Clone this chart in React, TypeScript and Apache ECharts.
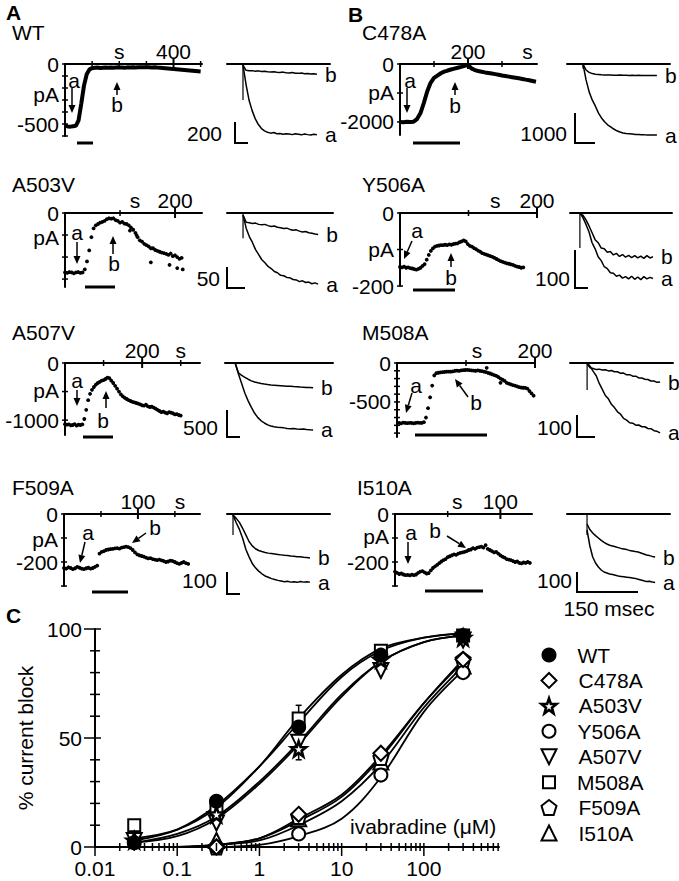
import { useEffect, useRef } from "react";
import * as echarts from "echarts";

const FONT = '"Liberation Sans", Arial, Helvetica, sans-serif';
const INK = "#000";

/* ---------------- Panels A and B : time courses ---------------- */
const mutants = ["WT", "C478A", "A503V", "Y506A", "A507V", "M508A", "F509A", "I510A"];

// sampling of each time course (s)
const courseStart = [0, 0, 0, 0, 0, 3, 0, 0];
const courseStep = [10, 10, 4, 3, 5, 3, 3, 2];

const currentWT = [-515, -520, -522, -518, -515, -470, -330, -180, -85, -45, -35, -32, -30, -33, -31, -30, -32, -29, -31, -28, -30, -29, -31, -28, -30, -27, -29, -27, -28, -26, -28, -27, -29, -28, -30, -31, -33, -35, -37, -40, -42, -44, -46, -48, -50, -52, -54, -56, -58, -60, -62];
const currentC478A = [-2000, -2010, -1995, -2005, -1990, -1900, -1700, -1350, -950, -650, -480, -400, -320, -265, -225, -190, -160, -130, -100, -65, -35, -150, -210, -240, -265, -290, -310, -330, -350, -370, -395, -415, -435, -455, -475, -495, -515, -540, -560, -585, -610];
const currentA503V = [-135, -136, -134, -135, -137, -135, -134, -136, -135, -128, -110, -85, -55, -35, -28, -25, -22, -20, -18, -14, -12, -13, -12, -16, -18, -22, -20, -24, -25, -28, -33, -38, -45, -55, -62, -65, -70, -73, -76, -80, -80, -84, -86, -88, -90, -91, -93, -95, -92, -98, -96, -100, -104, -102];
const currentY506A = [-148, -149, -147, -150, -149, -151, -152, -154, -155, -153, -150, -145, -140, -128, -115, -104, -97, -92, -90, -89, -88, -88, -87, -88, -86, -87, -85, -84, -83, -80, -78, -75, -78, -85, -90, -92, -96, -99, -103, -106, -110, -112, -114, -116, -118, -120, -123, -126, -129, -132, -134, -136, -138, -139, -141, -142, -145, -147, -148, -150, -149];
const currentA507V = [-1070, -1080, -1075, -1090, -1085, -1070, -1095, -1080, -1085, -1075, -980, -820, -650, -540, -470, -420, -380, -350, -330, -310, -300, -280, -255, -265, -310, -350, -400, -450, -500, -550, -585, -610, -630, -650, -665, -680, -690, -700, -710, -725, -740, -745, -730, -760, -770, -765, -780, -800, -820, -840, -860, -850, -870, -880, -860, -870, -880, -900, -895, -910, -920];
const currentM508A = [-770, -775, -765, -770, -772, -768, -770, -775, -770, -765, -768, -770, -760, -700, -580, -440, -290, -160, -130, -125, -120, -118, -115, -112, -110, -112, -108, -100, -98, -102, -95, -92, -90, -88, -92, -95, -98, -100, -95, -100, -105, -110, -118, -128, -135, -145, -155, -165, -180, -200, -215, -230, -255, -265, -275, -285, -290, -300, -310, -315, -318, -320, -330, -360, -390, -420];
const currentF509A = [-225, -228, -222, -225, -230, -226, -220, -224, -228, -230, -226, -224, -228, -225, -220, -215, -165, -158, -155, -150, -148, -146, -145, -143, -142, -144, -140, -138, -136, -138, -142, -150, -160, -168, -172, -175, -178, -182, -185, -184, -188, -190, -192, -190, -193, -196, -200, -198, -194, -196, -200, -205, -208, -204, -200, -205, -208];
const currentI510A = [-240, -245, -250, -248, -252, -255, -254, -256, -253, -255, -252, -245, -240, -238, -243, -248, -246, -235, -225, -218, -212, -205, -198, -192, -188, -180, -176, -172, -168, -170, -165, -162, -160, -158, -155, -150, -148, -142, -145, -140, -138, -136, -140, -130, -145, -150, -155, -160, -158, -165, -172, -178, -182, -188, -190, -192, -196, -200, -198, -204, -206, -202, -204, -200, -204];
const courseValues = [currentWT, currentC478A, currentA503V, currentY506A, currentA507V, currentM508A, currentF509A, currentI510A];
const courseAsLine = [true, true, false, false, false, false, false, false];

// scattered points lying away from the main band: [s, pA]
const strayA503V = [[118, -40], [130, -50], [156, -112], [190, -118], [204, -125], [214, -128]];
const strayM508A = [[130, -62], [150, -255]];
const courseStray = [[], [], strayA503V, [], [], strayM508A, [], []];

// axis ranges, ticks and tick labels of the time courses
const courseXMax = [505, 403, 249, 200, 350, 200, 184, 130];
const courseYMin = [-600, -2450, -168, -200, -1260, -950, -300, -300];
const courseXTicks = [[100, 200, 300, 400, 500], [100, 200, 300], [100, 200], [100, 200], [100, 200, 300], [100, 200], [50, 100, 150], [50, 100]];
const courseXMajor = [[400], [200], [200], [200], [200], [200], [100], [100]];
const courseYTicks = [
  [0, -100, -200, -300, -400, -500, -600],
  [0, -1000, -2000],
  [0, -50, -100, -150],
  [0, -100, -200],
  [0, -500, -1000],
  [0, -100, -200, -300, -400, -500, -600, -700, -800, -900],
  [0, -100, -200, -300],
  [0, -100, -200, -300],
];
const courseXLabels: any[] = [
  [[200, "s"], [400, "400"]],
  [[200, "200"], [375, "s"]],
  [[127, "s"], [200, "200"]],
  [[139, "s"], [200, "200"]],
  [[200, "200"], [300, "s"]],
  [[116, "s"], [200, "200"]],
  [[100, "100"], [157, "s"]],
  [[59, "s"], [100, "100"]],
];
const courseYLabels: any[] = [
  [[0, "0"], [-250, "pA"], [-500, "-500"]],
  [[0, "0"], [-1000, "pA"], [-2000, "-2000"]],
  [[0, "0"], [-55, "pA"], [-100, "-100"]],
  [[0, "0"], [-100, "pA"], [-200, "-200"]],
  [[0, "0"], [-480, "pA"], [-1000, "-1000"]],
  [[0, "0"], [-500, "-500"], [-760, "pA"]],
  [[0, "0"], [-105, "pA"], [-200, "-200"]],
  [[0, "0"], [-95, "pA"], [-200, "-200"]],
];

/* ---------------- current traces (pA) at a and b ---------------- */
const traceTimes = [40, 48, 56, 64, 72, 80, 88, 96, 104, 112, 120, 128, 136, 144, 152, 160, 168, 176, 184, 192, 200, 208, 216, 224, 232];
const traceA = [
  [-10, -180, -320, -410, -480, -530, -565, -585, -598, -605, -600, -610, -608, -615, -610, -612, -618, -610, -615, -620, -612, -618, -622, -615, -620],
  [0, -530, -930, -1200, -1400, -1630, -1800, -1930, -2030, -2100, -2170, -2230, -2270, -2300, -2320, -2330, -2340, -2350, -2355, -2360, -2365, -2368, -2370, -2370, -2372],
  [-5, -36, -56, -70, -87, -99, -111, -118, -127, -132, -139, -142, -148, -149, -153, -154, -158, -159, -163, -161, -165, -164, -168, -166, -169],
  [0, -12, -30, -50, -78, -94, -115, -125, -141, -146, -157, -158, -166, -163, -171, -167, -173, -166, -174, -168, -175, -167, -173, -169, -172],
  [0, -200, -380, -560, -700, -820, -930, -1010, -1070, -1110, -1145, -1165, -1180, -1190, -1195, -1200, -1210, -1215, -1212, -1220, -1225, -1222, -1230, -1235, -1238],
  [0, -15, -38, -58, -93, -120, -148, -163, -188, -203, -222, -233, -252, -260, -272, -274, -283, -282, -290, -290, -298, -299, -308, -311, -318],
  [-5, -40, -70, -110, -160, -195, -225, -245, -260, -272, -282, -288, -294, -298, -302, -305, -308, -306, -310, -308, -311, -307, -310, -308, -310],
  [-80, -160, -215, -245, -265, -280, -290, -295, -300, -303, -306, -310, -312, -314, -316, -318, -320, -322, -326, -330, -334, -338, -336, -340, -342],
];
const traceB = [
  [-10, -55, -60, -58, -63, -60, -66, -64, -68, -70, -67, -72, -74, -71, -76, -78, -75, -80, -82, -79, -85, -83, -88, -86, -90],
  [0, -200, -280, -320, -340, -350, -360, -365, -370, -368, -372, -375, -370, -378, -375, -380, -376, -382, -378, -380, -384, -380, -382, -385, -380],
  [-5, -22, -23, -25, -24, -27, -28, -27, -30, -32, -31, -34, -35, -37, -36, -39, -41, -40, -43, -45, -44, -47, -48, -50, -51],
  [0, -6, -18, -34, -52, -70, -78, -92, -94, -103, -101, -110, -106, -114, -109, -116, -111, -117, -112, -118, -113, -119, -112, -118, -115],
  [0, -180, -230, -265, -300, -330, -350, -365, -378, -390, -398, -405, -410, -415, -420, -425, -430, -428, -435, -440, -445, -448, -452, -455, -460],
  [-5, -22, -25, -30, -28, -32, -31, -36, -34, -40, -40, -47, -46, -54, -53, -60, -60, -68, -68, -74, -75, -82, -82, -88, -87],
  [-5, -20, -38, -65, -95, -125, -145, -158, -166, -171, -175, -178, -180, -182, -184, -186, -188, -189, -191, -192, -194, -195, -197, -198, -200],
  [-50, -78, -95, -108, -120, -132, -142, -150, -156, -160, -164, -168, -172, -175, -178, -182, -185, -188, -190, -195, -200, -205, -208, -212, -215],
];
const artifactDepth = [-315, -150, -60, -92, 0, -123, -95, -105];
const scaleBarLabels = ["200", "1000", "50", "100", "500", "100", "100", "100"];

/* ---------------- Panel C : dose response ---------------- */
const ivaConc = [0.03, 0.3, 3, 30, 300];
const blockWT = [2, 21, 55, 88, 97];
const blockC478A = [null, 0, 15, 43, 86];
const blockA503V = [3, 15, 45, 86, 96];
const blockY506A = [null, 0, 6, 33, 80];
const blockA507V = [3, 11, 48, 81, 95];
const blockM508A = [10, 17, 59, 90, 97];
const blockF509A = [null, 0, 14, 41, 86];
const blockI510A = [null, 3, 13, 39, 83];
const blockValues = [blockWT, blockC478A, blockA503V, blockY506A, blockA507V, blockM508A, blockF509A, blockI510A];
const semA503V = [0, 0, 5, 0, 0];
const semM508A = [2, 0, 6, 0, 0];
const semA507V = [0, 0, 4, 0, 0];
const semValues = [null, null, semA503V, null, semA507V, semM508A, null, null];

const fitConc = [0.03, 0.1, 0.3, 1, 3, 10, 30, 100, 300];
const fitWT = [3, 8, 19, 37, 57, 78, 90, 96, 98];
const fitC478A = [null, 0, 1, 4, 13, 24, 42, 66, 85];
const fitA503V = [2, 5, 13, 29, 47, 69, 85, 94, 97];
const fitY506A = [null, 0, 0, 1, 5, 13, 32, 62, 81];
const fitA507V = [2, 6, 14, 30, 48, 70, 85, 94, 97];
const fitM508A = [4, 8, 18, 37, 59, 79, 91, 96, 98];
const fitF509A = [null, 0, 1, 4, 12, 23, 41, 66, 86];
const fitI510A = [null, 0, 1, 3, 10, 21, 38, 64, 83];
const fitValues = [fitWT, fitC478A, fitA503V, fitY506A, fitA507V, fitM508A, fitF509A, fitI510A];

const concTickLabels = [0.01, 0.1, 1, 10, 100];
const concMinorTicks = [0.02, 0.03, 0.04, 0.05, 0.06, 0.07, 0.08, 0.09, 0.2, 0.3, 0.4, 0.5, 0.6, 0.7, 0.8, 0.9, 2, 3, 4, 5, 6, 7, 8, 9, 20, 30, 40, 50, 60, 70, 80, 90, 200, 300, 400, 500, 600, 700, 800];
const blockTickLabels = [0, 50, 100];
const blockMinorTicks = [10, 20, 30, 40, 60, 70, 80, 90];

/* ---------------- layout (pixels) ---------------- */
const courseLayout = [
  { left: 65, top: 64, width: 137, height: 72 },
  { left: 400, top: 64, width: 137, height: 71 },
  { left: 65, top: 213, width: 137, height: 74 },
  { left: 400, top: 213, width: 137, height: 73 },
  { left: 65, top: 363, width: 135, height: 72 },
  { left: 397, top: 363, width: 138, height: 74 },
  { left: 64, top: 514, width: 136, height: 72 },
  { left: 395, top: 514, width: 137, height: 72 },
];
const traceLayout = [
  { left: 227, top: 64, width: 103, height: 80, xMin: -1.5, xMax: 266, yMin: -700 },
  { left: 567, top: 64, width: 103, height: 80, xMin: -1.5, xMax: 266, yMin: -2670 },
  { left: 227, top: 213, width: 106, height: 80, xMin: -1, xMax: 270, yMin: -190 },
  { left: 570, top: 213, width: 102, height: 80, xMin: 14, xMax: 282, yMin: -210 },
  { left: 225, top: 363, width: 108, height: 80, xMin: 15, xMax: 281, yMin: -1480 },
  { left: 570, top: 363, width: 103, height: 80, xMin: -5, xMax: 266, yMin: -364 },
  { left: 227, top: 514, width: 103, height: 80, xMin: 25, xMax: 282, yMin: -364 },
  { left: 567, top: 514, width: 103, height: 80, xMin: -16.5, xMax: 274, yMin: -400 },
];
const titlePos = [[12, 32], [362, 32], [12, 184], [362, 184], [12, 332], [362, 332], [12, 487], [357, 487]];
const scaleBarPts = [
  [[235, 122], [235, 143], [248, 143]],
  [[575, 113], [575, 143], [595, 143]],
  [[227, 267], [227, 288], [245, 288]],
  [[575, 250], [575, 288], [588, 288]],
  [[227, 410], [227, 437], [240, 437]],
  [[577, 415], [577, 437], [595, 437]],
  [[227, 572], [227, 594], [240, 594]],
  [[577, 572], [577, 592], [638, 592]],
];
const scaleLabelPos = [[222, 133], [567, 133], [220, 278], [570, 278], [218, 427], [572, 427], [217, 580], [572, 580]];
const drugBars = [[77, 93, 143], [413, 460, 143], [85, 115, 287], [413, 455, 290], [83, 113, 437], [415, 487, 435], [92, 128, 592], [425, 483, 591]];
const arrowsA = [[74, 80, 72, 88, 72, 113], [410, 80, 407, 88, 407, 113], [77, 232, 77, 242, 77, 264], [417, 230, 412, 241, 404, 259], [77, 380, 77, 390, 77, 406], [416, 385, 412, 393, 406, 413], [88, 532, 85, 542, 80, 563], [411, 532, 408, 542, 408, 564]];
const arrowsB = [[117, 104, 117, 95, 117, 82], [455, 105, 455, 95, 455, 82], [114, 263, 113, 254, 113, 236], [451, 277, 451, 267, 451, 253], [103, 420, 106, 408, 106, 391], [476, 402, 468, 397, 455, 379], [155, 527, 146, 533, 132, 543], [435, 530, 447, 536, 466, 548]];

const starPath = "path://M50,2 L62,36 L98,37 L69,59 L79,94 L50,73 L21,94 L31,59 L2,37 L38,36 Z";
const pentagonPath = "path://M50,2 L98,37 L80,94 L20,94 L2,37 Z";
const downTriPath = "path://M2,6 L98,6 L50,94 Z";
const markerSymbol = ["circle", "diamond", starPath, "circle", downTriPath, "rect", pentagonPath, "triangle"];
const markerSize = [13, 15, 15, 13, 15, 12, 15, 15];
const markerFilled = [true, false, false, false, false, false, false, false];

function buildOption() {
  const grid: any[] = [];
  const xAxis: any[] = [];
  const yAxis: any[] = [];
  const series: any[] = [];
  const graphic: any[] = [];
  const lab = { color: INK, fontSize: 21, fontFamily: FONT };
  const axisLine = { show: true, onZero: false, lineStyle: { color: INK, width: 2 } };
  const lookup = (pairs: any[]) => (v: number) => {
    const f = pairs.find((p: any) => Math.abs(p[0] - v) < 1e-6);
    return f ? f[1] : "";
  };
  const ticks = (gi: number, pts: number[][], dim: string, before: number, after: number, lw = 1.5) => ({
    type: "custom",
    xAxisIndex: gi,
    yAxisIndex: gi,
    silent: true,
    z: 6,
    data: pts,
    renderItem: (_p: any, api: any) => {
      const c = api.coord([api.value(0), api.value(1)]);
      const shape = dim === "x"
        ? { x1: c[0], y1: c[1] - before, x2: c[0], y2: c[1] + after }
        : { x1: c[0] - before, y1: c[1], x2: c[0] + after, y2: c[1] };
      return { type: "line", shape, style: { stroke: INK, lineWidth: lw } };
    },
  });
  const text = (t: string, x: number, y: number, align = "left", bold = false, size = 21) => ({
    type: "text",
    x,
    y,
    silent: true,
    z: 10,
    style: { text: t, fill: INK, fontSize: size, fontFamily: FONT, fontWeight: bold ? "bold" : "normal", align, verticalAlign: "middle" },
  });
  const seg = (x1: number, y1: number, x2: number, y2: number, w = 2) => ({
    type: "line", silent: true, z: 10, shape: { x1, y1, x2, y2 }, style: { stroke: INK, lineWidth: w },
  });
  const arrow = (x1: number, y1: number, x2: number, y2: number) => {
    const dx = x2 - x1, dy = y2 - y1, L = Math.hypot(dx, dy);
    const ux = dx / L, uy = dy / L, hl = 8, hw = 3.5;
    const bx = x2 - ux * hl, by = y2 - uy * hl;
    return [
      seg(x1, y1, bx, by, 1.5),
      { type: "polygon", silent: true, z: 10, shape: { points: [[x2, y2], [bx - uy * hw, by + ux * hw], [bx + uy * hw, by - ux * hw]] }, style: { fill: INK } },
    ];
  };

  mutants.forEach((m, i) => {
    // ---- time course ----
    const L = courseLayout[i];
    let gi = grid.length;
    grid.push({ left: L.left, top: L.top, width: L.width, height: L.height });
    xAxis.push({
      gridIndex: gi, type: "value", min: 0, max: courseXMax[i], position: "top",
      axisLine, axisTick: { show: false }, splitLine: { show: false },
      axisLabel: { ...lab, margin: 2, customValues: courseXLabels[i].map((p: any) => p[0]), formatter: lookup(courseXLabels[i]) },
    });
    yAxis.push({
      gridIndex: gi, type: "value", min: courseYMin[i], max: 0,
      axisLine, axisTick: { show: false }, splitLine: { show: false },
      axisLabel: { ...lab, margin: 6, customValues: courseYLabels[i].map((p: any) => p[0]), formatter: lookup(courseYLabels[i]) },
    });
    const pts = courseValues[i].map((v, k) => [courseStart[i] + k * courseStep[i], v]);
    if (courseAsLine[i]) {
      series.push({ type: "line", xAxisIndex: gi, yAxisIndex: gi, data: pts, showSymbol: false, silent: true, lineStyle: { color: INK, width: 4 }, z: 3 });
    } else {
      series.push({ type: "scatter", xAxisIndex: gi, yAxisIndex: gi, data: pts, symbolSize: 3.8, silent: true, itemStyle: { color: INK, opacity: 1 }, z: 3 });
    }
    if (courseStray[i].length) {
      series.push({ type: "scatter", xAxisIndex: gi, yAxisIndex: gi, data: courseStray[i], symbolSize: 3.8, silent: true, itemStyle: { color: INK, opacity: 1 }, z: 3 });
    }
    const minorX = courseXTicks[i].filter((v) => !courseXMajor[i].includes(v));
    series.push(ticks(gi, minorX.map((v) => [v, 0]), "x", 3, 3));
    series.push(ticks(gi, courseXMajor[i].map((v) => [v, 0]), "x", 5, 5, 2));
    series.push(ticks(gi, courseYTicks[i].map((v) => [0, v]), "y", 3, 3));

    // ---- current traces ----
    const T = traceLayout[i];
    gi = grid.length;
    grid.push({ left: T.left, top: T.top, width: T.width, height: T.height });
    xAxis.push({ gridIndex: gi, type: "value", min: T.xMin, max: T.xMax, position: "top", axisLine, axisTick: { show: false }, axisLabel: { show: false }, splitLine: { show: false } });
    yAxis.push({ gridIndex: gi, type: "value", min: T.yMin, max: 0, show: false });
    const endLabel = (t: string) => ({ show: true, formatter: t, color: INK, fontSize: 21, fontFamily: FONT, distance: 8 });
    series.push({ type: "line", xAxisIndex: gi, yAxisIndex: gi, data: traceTimes.map((t, k) => [t, traceB[i][k]]), showSymbol: false, silent: true, lineStyle: { color: INK, width: 1.5 }, endLabel: endLabel("b"), z: 3 });
    series.push({ type: "line", xAxisIndex: gi, yAxisIndex: gi, data: traceTimes.map((t, k) => [t, traceA[i][k]]), showSymbol: false, silent: true, lineStyle: { color: INK, width: 1.5 }, endLabel: endLabel("a"), z: 3 });
    if (artifactDepth[i] !== 0) {
      series.push({ type: "line", xAxisIndex: gi, yAxisIndex: gi, data: [[traceTimes[0], 0], [traceTimes[0], artifactDepth[i]]], showSymbol: false, silent: true, lineStyle: { color: INK, width: 1.2 }, z: 3 });
    }

    // ---- annotations ----
    graphic.push(text(m, titlePos[i][0], titlePos[i][1]));
    graphic.push({ type: "polyline", silent: true, z: 10, shape: { points: scaleBarPts[i] }, style: { stroke: INK, lineWidth: 2, fill: null } });
    graphic.push(text(scaleBarLabels[i], scaleLabelPos[i][0], scaleLabelPos[i][1], "right"));
    const d = drugBars[i];
    graphic.push(seg(d[0], d[2], d[1], d[2], 3));
    const a = arrowsA[i], b = arrowsB[i];
    graphic.push(text("a", a[0], a[1], "center"));
    graphic.push(...arrow(a[2], a[3], a[4], a[5]));
    graphic.push(text("b", b[0], b[1], "center"));
    graphic.push(...arrow(b[2], b[3], b[4], b[5]));
  });

  // ---- Panel C ----
  const cg = grid.length;
  grid.push({ left: 95, top: 629, width: 404, height: 218 });
  xAxis.push({
    gridIndex: cg, type: "log", logBase: 10, min: 0.01, max: 820,
    axisLine, axisTick: { show: false }, splitLine: { show: false }, minorTick: { show: false }, minorSplitLine: { show: false },
    axisLabel: { ...lab, margin: 11, customValues: concTickLabels, formatter: (v: number) => String(+Number(v).toPrecision(2)) },
  });
  yAxis.push({
    gridIndex: cg, type: "value", min: 0, max: 100,
    axisLine, axisTick: { show: false }, splitLine: { show: false },
    axisLabel: { ...lab, margin: 13, customValues: blockTickLabels, formatter: (v: number) => String(v) },
    name: "% current block", nameLocation: "middle", nameRotate: 90, nameGap: 53,
    nameTextStyle: { color: INK, fontSize: 21, fontFamily: FONT },
  });
  series.push(ticks(cg, concTickLabels.map((v) => [v, 0]), "x", 4, 9));
  series.push(ticks(cg, concMinorTicks.map((v) => [v, 0]), "x", 4, 4));
  series.push(ticks(cg, blockTickLabels.map((v) => [0.01, v]), "y", 11, 6));
  series.push(ticks(cg, blockMinorTicks.map((v) => [0.01, v]), "y", 5, 5));

  mutants.forEach((m, i) => {
    const fit = fitConc.map((c, k) => [c, fitValues[i][k]]).filter((p) => p[1] !== null);
    series.push({ type: "line", name: m + " fit", xAxisIndex: cg, yAxisIndex: cg, data: fit, smooth: 0.35, showSymbol: false, silent: true, lineStyle: { color: INK, width: 1.8 }, z: 2 });
  });
  mutants.forEach((m, i) => {
    const sem = semValues[i];
    if (sem) {
      const bars = ivaConc.map((c, k) => [c, blockValues[i][k] - sem[k], blockValues[i][k] + sem[k]]).filter((p, k) => sem[k] > 0);
      series.push({
        type: "custom", xAxisIndex: cg, yAxisIndex: cg, silent: true, z: 2, data: bars,
        renderItem: (_p: any, api: any) => {
          const lo = api.coord([api.value(0), api.value(1)]);
          const hi = api.coord([api.value(0), api.value(2)]);
          return {
            type: "group",
            children: [
              { type: "line", shape: { x1: lo[0], y1: lo[1], x2: hi[0], y2: hi[1] }, style: { stroke: INK, lineWidth: 1.5 } },
              { type: "line", shape: { x1: lo[0] - 3, y1: lo[1], x2: lo[0] + 3, y2: lo[1] }, style: { stroke: INK, lineWidth: 1.5 } },
              { type: "line", shape: { x1: hi[0] - 3, y1: hi[1], x2: hi[0] + 3, y2: hi[1] }, style: { stroke: INK, lineWidth: 1.5 } },
            ],
          };
        },
      });
    }
  });
  const markerStyle = (i: number) => ({ color: markerFilled[i] ? INK : "#fff", borderColor: INK, borderWidth: i === 2 ? 2.6 : 2, opacity: 1 });
  mutants.forEach((m, i) => {
    const pts = ivaConc.map((c, k) => [c, blockValues[i][k]]).filter((p) => p[1] !== null);
    series.push({ type: "scatter", name: m, xAxisIndex: cg, yAxisIndex: cg, data: pts, symbol: markerSymbol[i], symbolSize: markerSize[i], silent: true, itemStyle: markerStyle(i), z: 4 + (7 - i) * 0.01 });
  });

  // ---- legend of panel C (drawn on its own category axis) ----
  const lg = grid.length;
  grid.push({ left: 548, top: 655, width: 2, height: 178 });
  xAxis.push({ gridIndex: lg, type: "value", min: -1, max: 1, show: false });
  yAxis.push({ gridIndex: lg, type: "category", data: mutants, inverse: true, boundaryGap: false, show: false });
  mutants.forEach((m, i) => {
    series.push({
      type: "scatter", xAxisIndex: lg, yAxisIndex: lg, data: [[0, m]], symbol: markerSymbol[i], symbolSize: markerSize[i], silent: true,
      itemStyle: markerStyle(i),
      label: { show: true, position: "right", distance: 21, formatter: m, color: INK, fontSize: 21, fontFamily: FONT },
    });
  });

  graphic.push(text("A", 6, 12, "left", true, 21));
  graphic.push(text("B", 348, 14, "left", true, 21));
  graphic.push(text("C", 6, 615, "left", true, 21));
  graphic.push(text("150 msec", 609, 608, "center"));
  graphic.push(text("ivabradine (\u03bcM)", 350, 826, "left"));

  return {
    animation: false,
    backgroundColor: "#fff",
    textStyle: { fontFamily: FONT },
    grid,
    xAxis,
    yAxis,
    series,
    graphic,
  };
}

export default function App() {
  const ref = useRef<HTMLDivElement>(null);
  useEffect(() => {
    if (!ref.current) return;
    const chart = echarts.init(ref.current, undefined, { renderer: "svg" });
    chart.setOption(buildOption() as any);
    return () => chart.dispose();
  }, []);
  return <div ref={ref} style={{ position: "absolute", left: 0, top: 0, width: 679, height: 881, background: "#fff" }} />;
}
